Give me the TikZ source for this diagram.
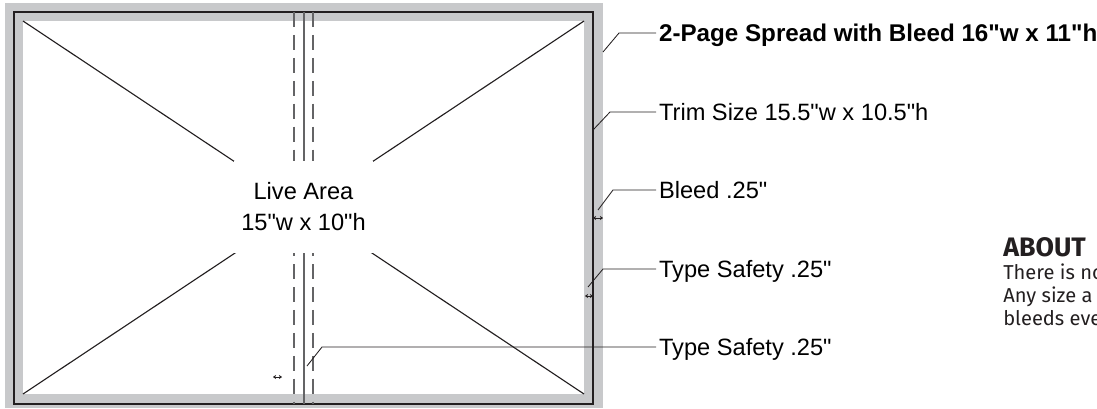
\documentclass[tikz,border=0pt]{standalone}
\usepackage{fontspec}
\setmainfont{Liberation Sans}[Ligatures=TeXOff]
\newfontfamily\aboutfont{Fira Sans}
\usetikzlibrary{arrows.meta}

\definecolor{bleedgray}{RGB}{200,201,203}
\definecolor{spinegray}{RGB}{100,100,102}
\definecolor{trimblack}{RGB}{35,31,32}

\tikzset{
  callout/.style={anchor=west, inner sep=2pt, text height=12pt, text depth=0pt,
    font=\fontsize{16.8}{20}\selectfont},
  leader/.style={line width=0.6pt, trimblack},
  gauge/.style={{Stealth[length=2.2pt,width=3pt]}-{Stealth[length=2.2pt,width=3pt]},
    line width=0.5pt, trimblack},
  aboutline/.style={anchor=base west, inner sep=0pt, text=trimblack,
    font=\aboutfont\fontsize{14.3}{17}\selectfont}
}

\begin{document}
\begin{tikzpicture}[x=0.025cm, y=-0.025cm]
    \useasboundingbox (0,0) rectangle (1097,408);

    % Bleed area and the white page inside it
    \fill[bleedgray] (5,3) rectangle (603,408);
    \fill[white] (23,21) rectangle (584,394);

    % Trim line
    \draw[trimblack, line width=1.2pt] (14,12) rectangle (593,404);

    % Corner to corner lines
    \draw[trimblack, line width=0.8pt] (23,21) -- (584,394);
    \draw[trimblack, line width=0.8pt] (23,394) -- (584,21);

    % Spine with its type safety lines
    \draw[spinegray, line width=1.4pt] (304,12) -- (304,404);
    \draw[spinegray, line width=1pt, dash pattern=on 10.6pt off 5.7pt] (294,12) -- (294,404);
    \draw[spinegray, line width=1pt, dash pattern=on 10.6pt off 5.7pt] (313,12) -- (313,404);

    % Live area label (its white box breaks the lines)
    \node[fill=white, minimum width=3.475cm, minimum height=2.3cm, align=center,
      font=\fontsize{16.8}{22}\selectfont] (live) at (303.5,207) {Live Area\\15"w x 10"h};

    % Callout labels
    \node[callout, font=\bfseries\fontsize{17.2}{20}\selectfont] (spread) at (656,33) {2-Page Spread with Bleed 16"w x 11"h};
    \node[callout] (trim) at (656,112) {Trim Size 15.5"w x 10.5"h};
    \node[callout] (bleed) at (656,190) {Bleed .25"};
    \node[callout] (safeA) at (656,269) {Type Safety .25"};
    \node[callout] (safeB) at (656,347) {Type Safety .25"};

    % Leader ends
    \coordinate (spreadtip) at (603,52);
    \coordinate (trimtip) at (593,130);
    \coordinate (bleedtip) at (598,210);
    \coordinate (safeAtip) at (588,287);
    \coordinate (safeBtip) at (307,366);

    % Leaders
    \draw[leader] (spreadtip) -- ++(16,-19) -- (spread.west);
    \draw[leader] (trimtip) -- ++(17,-18) -- (trim.west);
    \draw[leader] (bleedtip) -- ++(15,-20) -- (bleed.west);
    \draw[leader] (safeAtip) -- ++(15,-18) -- (safeA.west);
    \draw[leader] (safeBtip) -- ++(15,-19) -- (safeB.west);

    % Small measuring arrows
    \coordinate (bleedL) at (593,218);
    \coordinate (bleedR) at (603,218);
    \draw[gauge] (bleedL) -- (bleedR);
    \coordinate (safeAL) at (585,296);
    \coordinate (safeAR) at (593,296);
    \draw[gauge] (safeAL) -- (safeAR);
    \coordinate (safeBL) at (273,377);
    \coordinate (safeBR) at (282,377);
    \draw[gauge] (safeBL) -- (safeBR);

    % About text, cut off at the right edge
    \node[aboutline, font=\aboutfont\bfseries\fontsize{19}{22}\selectfont] (about) at (1003,256) {ABOUT};
    \node[aboutline] (aboutA) at (1003,279) {There is no};
    \node[aboutline] (aboutB) at (1003,302) {Any size a};
    \node[aboutline] (aboutC) at (1003,325) {bleeds eve};

\end{tikzpicture}
\end{document}
